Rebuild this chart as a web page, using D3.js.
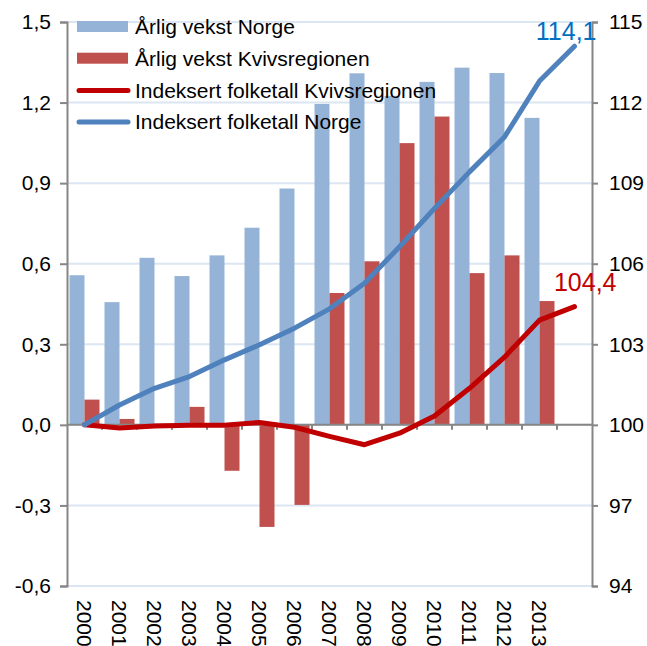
<!DOCTYPE html>
<html>
<head>
<meta charset="utf-8">
<script src="https://cdn.jsdelivr.net/npm/d3@7"></script>
<style>
  body { margin: 0; background: #fff; }
  text { font-family: "Liberation Sans", Arial, sans-serif; fill: #000; }
</style>
</head>
<body>
<div id="chart"></div>
<script>
// years (2014 only has index points, no label/bars)
const years = ["2000","2001","2002","2003","2004","2005","2006","2007","2008","2009","2010","2011","2012","2013","2014"];
const yearLabels = ["2000","2001","2002","2003","2004","2005","2006","2007","2008","2009","2010","2011","2012","2013",""];

// annual growth (%), bars
const vekstNorge = [0.557, 0.457, 0.622, 0.554, 0.631, 0.734, 0.880, 1.195, 1.309, 1.225, 1.277, 1.330, 1.310, 1.143];
const vekstKvivs = [0.094, 0.022, 0.004, 0.067, -0.171, -0.380, -0.298, 0.491, 0.609, 1.049, 1.148, 0.565, 0.631, 0.461];

// indexed population (2000 = 100), lines
const indeksNorge = [100, 100.74, 101.36, 101.80, 102.42, 102.98, 103.60, 104.32, 105.27, 106.63, 108.06, 109.42, 110.72, 112.80, 114.1];
const indeksKvivs = [100, 99.88, 99.96, 99.99, 99.99, 100.09, 99.91, 99.57, 99.26, 99.69, 100.33, 101.36, 102.52, 103.90, 104.4];

const leftTicks = [-0.6, -0.3, 0, 0.3, 0.6, 0.9, 1.2, 1.5];
const rightTicks = [94, 97, 100, 103, 106, 109, 112, 115];

const legendItems = [
  { name: "Årlig vekst Norge", type: "bar", color: "#95B3D7" },
  { name: "Årlig vekst Kvivsregionen", type: "bar", color: "#C0504D" },
  { name: "Indeksert folketall Kvivsregionen", type: "line", color: "#C00000" },
  { name: "Indeksert folketall Norge", type: "line", color: "#4F81BD" }
];

const width = 647, height = 646;
const plot = { left: 67, right: 592, top: 22, bottom: 586 };

const svg = d3.select("#chart").append("svg")
  .attr("width", width)
  .attr("height", height);

const x = d3.scaleBand().domain(years).range([plot.left, plot.right]);
const x1 = d3.scaleBand().domain(["norge", "kvivs"]).range([0, x.bandwidth()]).paddingOuter(0.1667);
const yL = d3.scaleLinear().domain([-0.6, 1.5]).range([plot.bottom, plot.top]);
const yR = d3.scaleLinear().domain([94, 115]).range([plot.bottom, plot.top]);

const comma = v => d3.format(".1f")(v).replace(".", ",").replace("−", "-");

// gridlines
svg.append("g").selectAll("line")
  .data(leftTicks)
  .enter().append("line")
  .attr("x1", plot.left).attr("x2", plot.right)
  .attr("y1", d => yL(d)).attr("y2", d => yL(d))
  .attr("stroke", "#DCE6F2")
  .attr("stroke-width", 2);

// bars
const barYears = years.slice(0, vekstNorge.length);
svg.append("g").selectAll("rect")
  .data(barYears)
  .enter().append("rect")
  .attr("x", d => x(d) + x1("norge"))
  .attr("width", x1.bandwidth())
  .attr("y", (d, i) => yL(Math.max(0, vekstNorge[i])))
  .attr("height", (d, i) => Math.abs(yL(vekstNorge[i]) - yL(0)))
  .attr("fill", "#95B3D7");

svg.append("g").selectAll("rect")
  .data(barYears)
  .enter().append("rect")
  .attr("x", d => x(d) + x1("kvivs"))
  .attr("width", x1.bandwidth())
  .attr("y", (d, i) => yL(Math.max(0, vekstKvivs[i])))
  .attr("height", (d, i) => Math.abs(yL(vekstKvivs[i]) - yL(0)))
  .attr("fill", "#C0504D");

// axes
const axisColor = "#868686";

const gLeft = svg.append("g")
  .attr("transform", `translate(${plot.left},0)`)
  .call(d3.axisLeft(yL).tickValues(leftTicks).tickSize(7).tickPadding(9).tickFormat(comma));
const gRight = svg.append("g")
  .attr("transform", `translate(${plot.right},0)`)
  .call(d3.axisRight(yR).tickValues(rightTicks).tickSize(6).tickPadding(11).tickFormat(d3.format("d")));

[gLeft, gRight].forEach(g => {
  g.select(".domain").attr("stroke", axisColor).attr("stroke-width", 2);
  g.selectAll(".tick line").attr("stroke", axisColor).attr("stroke-width", 2);
  g.selectAll(".tick text").style("font-size", "21px").attr("fill", "#000")
    .style("font-family", "'Liberation Sans', Arial, sans-serif");
});

// x axis at zero
const y0 = yL(0);
svg.append("line")
  .attr("x1", plot.left).attr("x2", plot.right)
  .attr("y1", y0).attr("y2", y0)
  .attr("stroke", axisColor).attr("stroke-width", 2);

svg.append("g").selectAll("line")
  .data(years.slice(1))
  .enter().append("line")
  .attr("x1", d => x(d)).attr("x2", d => x(d))
  .attr("y1", y0).attr("y2", y0 + 5)
  .attr("stroke", axisColor).attr("stroke-width", 2);

svg.append("g").selectAll("text")
  .data(years)
  .enter().append("text")
  .text((d, i) => yearLabels[i])
  .attr("transform", d => `translate(${x(d) + x.bandwidth() / 2},${plot.bottom + 14}) rotate(90)`)
  .attr("dy", "0.35em")
  .style("font-size", "21px");

// lines
const indexLine = d3.line()
  .x((d, i) => x(years[i]) + x.bandwidth() / 2)
  .y(d => yR(d));

svg.append("path")
  .datum(indeksKvivs)
  .attr("d", indexLine)
  .attr("fill", "none")
  .attr("stroke", "#C00000")
  .attr("stroke-width", 5)
  .attr("stroke-linejoin", "round")
  .attr("stroke-linecap", "round");

svg.append("path")
  .datum(indeksNorge)
  .attr("d", indexLine)
  .attr("fill", "none")
  .attr("stroke", "#4F81BD")
  .attr("stroke-width", 5)
  .attr("stroke-linejoin", "round")
  .attr("stroke-linecap", "round");

// end labels
const last = years.length - 1;
svg.append("text")
  .text(comma(indeksNorge[last]))
  .attr("x", x(years[last]) + x.bandwidth() / 2 + 22)
  .attr("y", yR(indeksNorge[last]) - 6)
  .attr("text-anchor", "end")
  .style("font-size", "25px")
  .style("fill", "#0070C0");

svg.append("text")
  .text(comma(indeksKvivs[last]))
  .attr("x", x(years[last]) + x.bandwidth() / 2 + 42)
  .attr("y", yR(indeksKvivs[last]) - 16)
  .attr("text-anchor", "end")
  .style("font-size", "25px")
  .style("fill", "#C00000");

// legend
const legend = svg.append("g").attr("transform", "translate(77,27)");
const rows = legend.selectAll("g")
  .data(legendItems)
  .enter().append("g")
  .attr("transform", (d, i) => `translate(0,${i * 31.7})`);

rows.filter(d => d.type === "bar").append("rect")
  .attr("x", 0).attr("y", -6)
  .attr("width", 51).attr("height", 11)
  .attr("fill", d => d.color);

rows.filter(d => d.type === "line").append("line")
  .attr("x1", 2).attr("x2", 51)
  .attr("y1", 0).attr("y2", 0)
  .attr("stroke", d => d.color)
  .attr("stroke-width", 5)
  .attr("stroke-linecap", "round");

rows.append("text")
  .text(d => d.name)
  .attr("x", 58)
  .attr("dy", "0.35em")
  .style("font-size", "21px");
</script>
</body>
</html>
